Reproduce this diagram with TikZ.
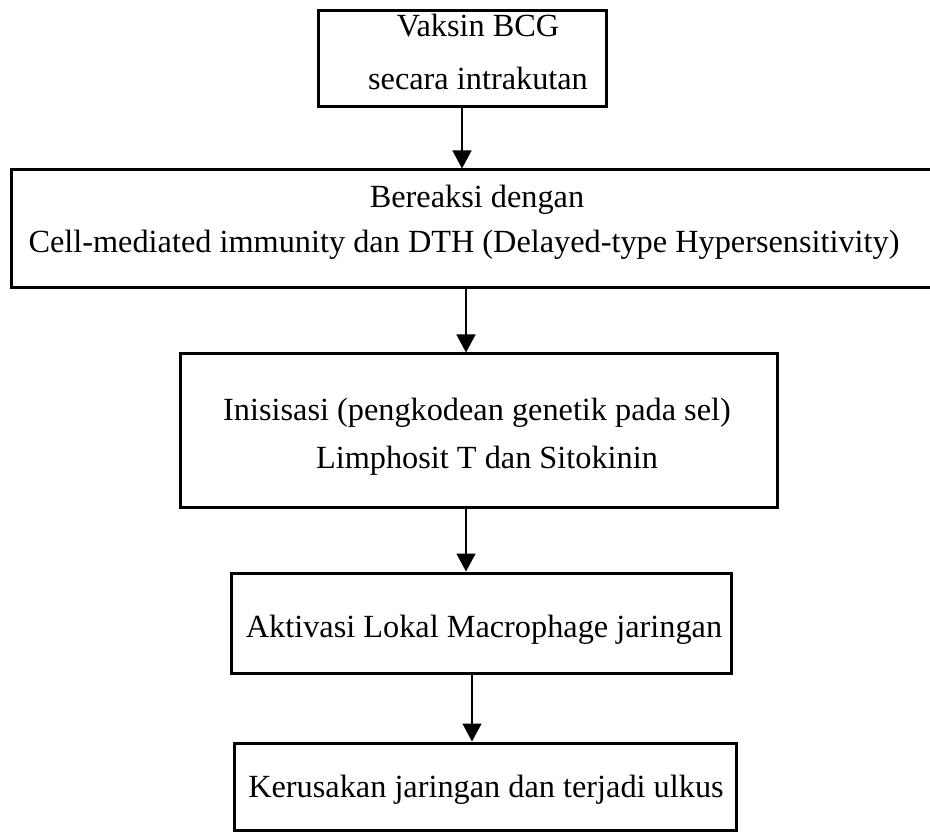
\documentclass[tikz,border=0pt]{standalone}
\usepackage{fontspec}
\setmainfont{Liberation Serif}
\usepackage{tikz}
\usetikzlibrary{arrows.meta}

\tikzset{
  kotak/.style={draw, line width=3pt, inner sep=0pt},
  teks/.style={anchor=base, inner sep=0pt, font=\fontsize{32.3}{38}\selectfont},
  panah/.style={line width=1.5pt, -{Triangle[width=19pt,length=18pt]}}
}

\begin{document}
\begin{tikzpicture}[x=1pt,y=-1pt]
    \useasboundingbox (0,0) rectangle (930,834);
        % draw the boxes
    \node[kotak, minimum width=288pt, minimum height=96pt] (vaksin) at (462,59) {};
    \node[kotak, minimum width=924pt, minimum height=118pt] (reaksi) at (473,229) {};
    \node[kotak, minimum width=597pt, minimum height=153pt] (inisiasi) at (478.5,430.5) {};
    \node[kotak, minimum width=500pt, minimum height=100pt] (aktivasi) at (481,623) {};
    \node[kotak, minimum width=502pt, minimum height=87pt] (rusak) at (485,786.5) {};
        % texts inside the boxes
    \node[teks] (vaksinA) at (478,37) {Vaksin BCG};
    \node[teks] (vaksinB) at (478,90) {secara intrakutan};
    \node[teks] (reaksiA) at (477,208) {Bereaksi dengan};
    \node[teks] (reaksiB) at (464,253) {Cell-mediated immunity dan DTH (Delayed-type Hypersensitivity)};
    \node[teks] (inisiasiA) at (477,421) {Inisisasi (pengkodean genetik pada sel)};
    \node[teks] (inisiasiB) at (487,468) {Limphosit T dan Sitokinin};
    \node[teks] (aktivasiA) at (484,637) {Aktivasi Lokal Macrophage jaringan};
    \node[teks] (rusakA) at (486,797) {Kerusakan jaringan dan terjadi ulkus};
        % arrows between the boxes
    \draw[panah] (vaksin.south) -- (vaksin.south |- reaksi.north);
    \draw[panah] ([xshift=-7pt]reaksi.south) -- ([xshift=-7pt]reaksi.south |- inisiasi.north);
    \draw[panah] ([xshift=-12.5pt]inisiasi.south) -- ([xshift=-12.5pt]inisiasi.south |- aktivasi.north);
    \draw[panah] ([xshift=-9pt]aktivasi.south) -- ([xshift=-9pt]aktivasi.south |- rusak.north);
\end{tikzpicture}
\end{document}
